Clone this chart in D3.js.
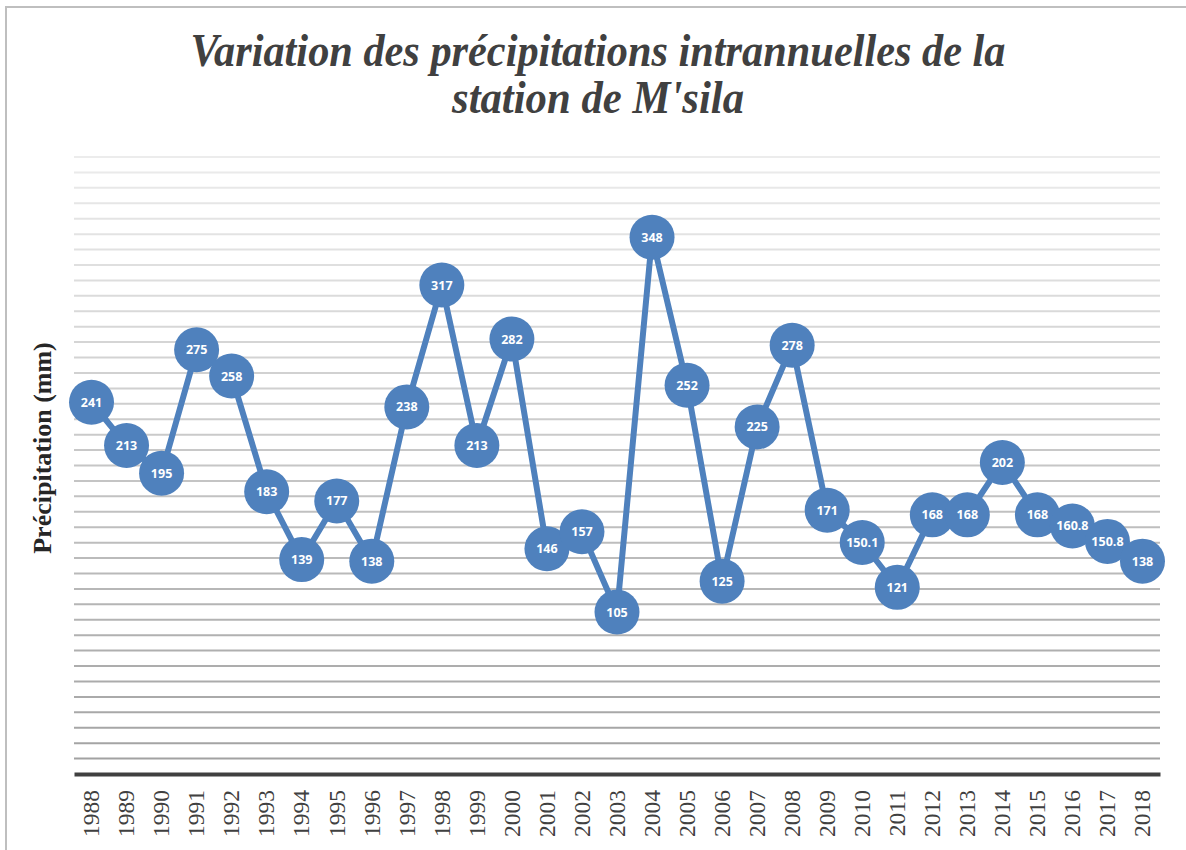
<!DOCTYPE html>
<html>
<head>
<meta charset="utf-8">
<script src="https://cdn.jsdelivr.net/npm/d3@7"></script>
<style>
  body { margin: 0; background: #fff; }
</style>
</head>
<body>
<div id="chart"></div>
<script>
// ===========================================================
// DATA
// ===========================================================
var years = ["1988","1989","1990","1991","1992","1993","1994","1995","1996","1997",
             "1998","1999","2000","2001","2002","2003","2004","2005","2006","2007",
             "2008","2009","2010","2011","2012","2013","2014","2015","2016","2017","2018"];
var precip = [241, 213, 195, 275, 258, 183, 139, 177, 138, 238,
              317, 213, 282, 146, 157, 105, 348, 252, 125, 225,
              278, 171, 150.1, 121, 168, 168, 202, 168, 160.8, 150.8, 138];
var gridValues = d3.range(10, 401, 10);

// ===========================================================
// SET MARGINS
// ===========================================================
var svgWidth = 1186;
var svgHeight = 850;
var margin = { top: 157, right: 26, bottom: 76, left: 74 };
var width = svgWidth - margin.left - margin.right;
var height = svgHeight - margin.top - margin.bottom;

var serif = "'Liberation Serif', 'Times New Roman', Times, serif";

var svg = d3.select('#chart')
    .append('svg')
    .attr('width', svgWidth)
    .attr('height', svgHeight);

// outer chart border
svg.append('rect')
    .attr('x', 6).attr('y', 7)
    .attr('width', svgWidth).attr('height', svgHeight)
    .attr('fill', 'none')
    .attr('stroke', '#bfbfbf')
    .attr('stroke-width', 2);

var chartGroup = svg.append('g')
    .attr('transform', `translate(${margin.left}, ${margin.top})`);

// ===========================================================
// SCALES
// ===========================================================
var x = d3.scaleBand()
    .domain(years)
    .range([0, width]);

var y = d3.scaleLinear()
    .domain([0, 400])
    .range([height, 0]);

var gridColor = d3.scaleLinear()
    .domain([0, 400])
    .range(['#a0a0a0', '#ececec']);

// gridlines
chartGroup.append('g')
    .selectAll('line')
    .data(gridValues)
    .enter()
    .append('line')
    .attr('x1', 0)
    .attr('x2', width)
    .attr('y1', d => y(d))
    .attr('y2', d => y(d))
    .attr('stroke', d => gridColor(d))
    .attr('stroke-width', 2);

// x axis
var xAxis = chartGroup.append('g')
    .attr('transform', `translate(0, ${height})`)
    .call(d3.axisBottom(x).tickSize(0).tickPadding(0));
xAxis.attr('font-family', null).attr('font-size', null);
xAxis.select('.domain')
    .attr('stroke', '#404040')
    .attr('stroke-width', 4);
xAxis.selectAll('text')
    .attr('transform', 'rotate(-90)')
    .attr('x', -16)
    .attr('y', 0)
    .attr('dy', '0.33em')
    .attr('text-anchor', 'end')
    .style('font-family', serif)
    .style('font-size', '23.5px')
    .attr('fill', '#404040');

// ===========================================================
// LINE & MARKERS
// ===========================================================
var line = d3.line()
    .x((d, i) => x(years[i]) + x.bandwidth() / 2)
    .y(d => y(d));

chartGroup.append('path')
    .datum(precip)
    .attr('fill', 'none')
    .attr('stroke', '#4f81bd')
    .attr('stroke-width', 6)
    .attr('stroke-linejoin', 'round')
    .attr('d', line);

var points = chartGroup.append('g')
    .selectAll('g')
    .data(precip)
    .enter()
    .append('g')
    .attr('transform', (d, i) => `translate(${x(years[i]) + x.bandwidth() / 2}, ${y(d)})`);

points.append('circle')
    .attr('r', 22.5)
    .attr('fill', '#4f81bd');

points.append('text')
    .text(d => d)
    .attr('text-anchor', 'middle')
    .attr('dy', '0.36em')
    .style('font-family', '"Open Sans", "Noto Sans", sans-serif')
    .style('font-weight', 'bold')
    .style('font-size', '12.5px')
    .attr('fill', '#ffffff');

// ===========================================================
// TITLES
// ===========================================================
var titleLines = ["Variation des précipitations intrannuelles de la", "station de M'sila"];
var titleWidths = [815, 292];
svg.selectAll('.title')
    .data(titleLines)
    .enter()
    .append('text')
    .attr('class', 'title')
    .attr('x', 598)
    .attr('y', (d, i) => 66 + i * 47)
    .attr('text-anchor', 'middle')
    .attr('textLength', (d, i) => titleWidths[i])
    .attr('lengthAdjust', 'spacingAndGlyphs')
    .text(d => d)
    .style('font-family', serif)
    .style('font-style', 'italic')
    .style('font-weight', 'bold')
    .style('font-size', '47px')
    .attr('fill', '#404040');

svg.append('text')
    .attr('transform', 'translate(51, 448) rotate(-90)')
    .attr('text-anchor', 'middle')
    .text('Précipitation (mm)')
    .style('font-family', serif)
    .style('font-weight', 'bold')
    .style('font-size', '26px')
    .attr('fill', '#262626');
</script>
</body>
</html>
